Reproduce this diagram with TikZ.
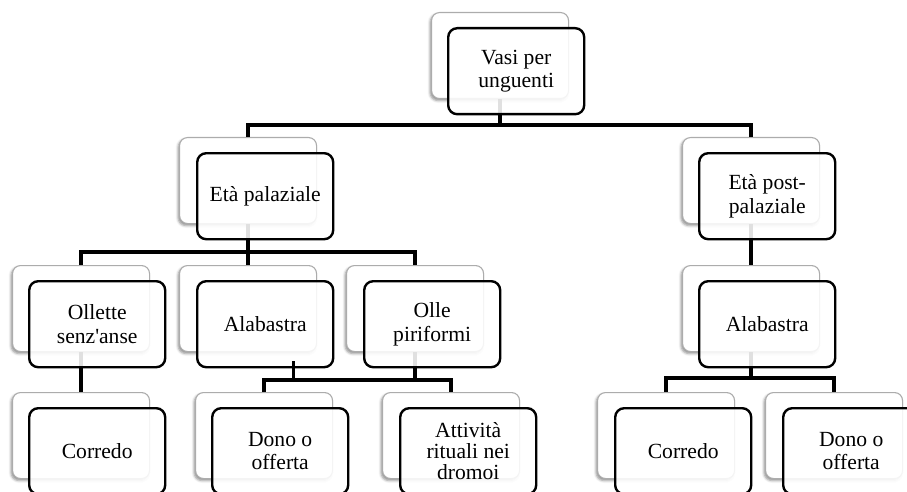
\documentclass[tikz,border=0pt]{standalone}
\usepackage{fontspec}
\setmainfont{Liberation Serif}
\newfontfamily\boxfont{Liberation Serif}
\usetikzlibrary{shadows.blur}

\tikzset{
  backbox/.style={draw=gray!65, line width=1.1pt, fill=white, rounded corners=8pt,
    minimum width=137pt, minimum height=86pt, anchor=north west, inner sep=0pt,
    blur shadow={shadow xshift=-1.5pt, shadow yshift=-2pt, shadow blur radius=2.5pt, shadow opacity=45}},
  frontbox/.style={draw=black, line width=2.4pt, fill=white, fill opacity=0.88, text opacity=1,
    rounded corners=9pt, minimum width=136pt, minimum height=86pt, anchor=north west,
    align=center, inner sep=2pt, font=\boxfont\fontsize{21.6}{23.5}\selectfont},
  conn/.style={draw=black, line width=4.5pt, line join=miter},
}

\begin{document}
\begin{tikzpicture}[x=1pt, y=-1pt]
\useasboundingbox (0,0) rectangle (907,492);
\clip (0,0) rectangle (907,492);

% back cards
\node[backbox] (vasiB)     at (431,12)  {};
\node[backbox] (palB)      at (179,137) {};
\node[backbox] (postB)     at (682,137) {};
\node[backbox] (olletteB)  at (12,265)  {};
\node[backbox] (alabLB)    at (179,265) {};
\node[backbox] (olleB)     at (346,265) {};
\node[backbox] (alabRB)    at (682,265) {};
\node[backbox] (corrLB)    at (12,392)  {};
\node[backbox] (donoLB)    at (195,392) {};
\node[backbox] (attB)      at (382,392) {};
\node[backbox] (corrRB)    at (597,392) {};
\node[backbox] (donoRB)    at (765,392) {};

% bus levels
\coordinate (barA) at (0,125);
\coordinate (barB) at (0,252);
\coordinate (barC) at (0,380);
\coordinate (barD) at (0,378);
\coordinate (tick) at (293,361);

% connectors
\draw[conn] (vasiB.south) -- (vasiB.south |- barA);
\draw[conn] (palB.north) -- (palB.north |- barA) -- (postB.north |- barA) -- (postB.north);
\draw[conn] (palB.south) -- (palB.south |- barB);
\draw[conn] (olletteB.north) -- (olletteB.north |- barB) -- (olleB.north |- barB) -- (olleB.north);
\draw[conn] (alabLB.north) -- (alabLB.north |- barB);
\draw[conn] (postB.south) -- (alabRB.north);
\draw[conn] (olletteB.south) -- (corrLB.north);
\draw[conn] (olleB.south) -- (olleB.south |- barC);
\draw[conn] (donoLB.north) -- (donoLB.north |- barC) -- (attB.north |- barC) -- (attB.north);
\draw[conn] (alabRB.south) -- (alabRB.south |- barD);
\draw[conn] (corrRB.north) -- (corrRB.north |- barD) -- (donoRB.north |- barD) -- (donoRB.north);

% front cards
\node[frontbox] (vasi)     at (447,27)  {Vasi per\\unguenti};
\node[frontbox] (pal)      at (196,152) {Età palaziale};
\node[frontbox] (post)     at (698,152) {Età post-\\palaziale};
\node[frontbox] (ollette)  at (28,280)  {Ollette\\senz'anse};
\node[frontbox] (alabL)    at (196,280) {Alabastra};
\node[frontbox] (olle)     at (363,280) {Olle\\piriformi};
\node[frontbox] (alabR)    at (698,280) {Alabastra};
\node[frontbox] (corrL)    at (28,407)  {Corredo};
\node[frontbox] (donoL)    at (211,407) {Dono o\\offerta};
\node[frontbox, font=\boxfont\fontsize{21.6}{21}\selectfont] (att) at (399,407) {Attività\\rituali nei\\dromoi};
\node[frontbox] (corrR)    at (614,407) {Corredo};
\node[frontbox] (donoR)    at (782,407) {Dono o\\offerta};

\draw[conn, line width=3pt] (tick) -- (tick |- barC);
\end{tikzpicture}
\end{document}
